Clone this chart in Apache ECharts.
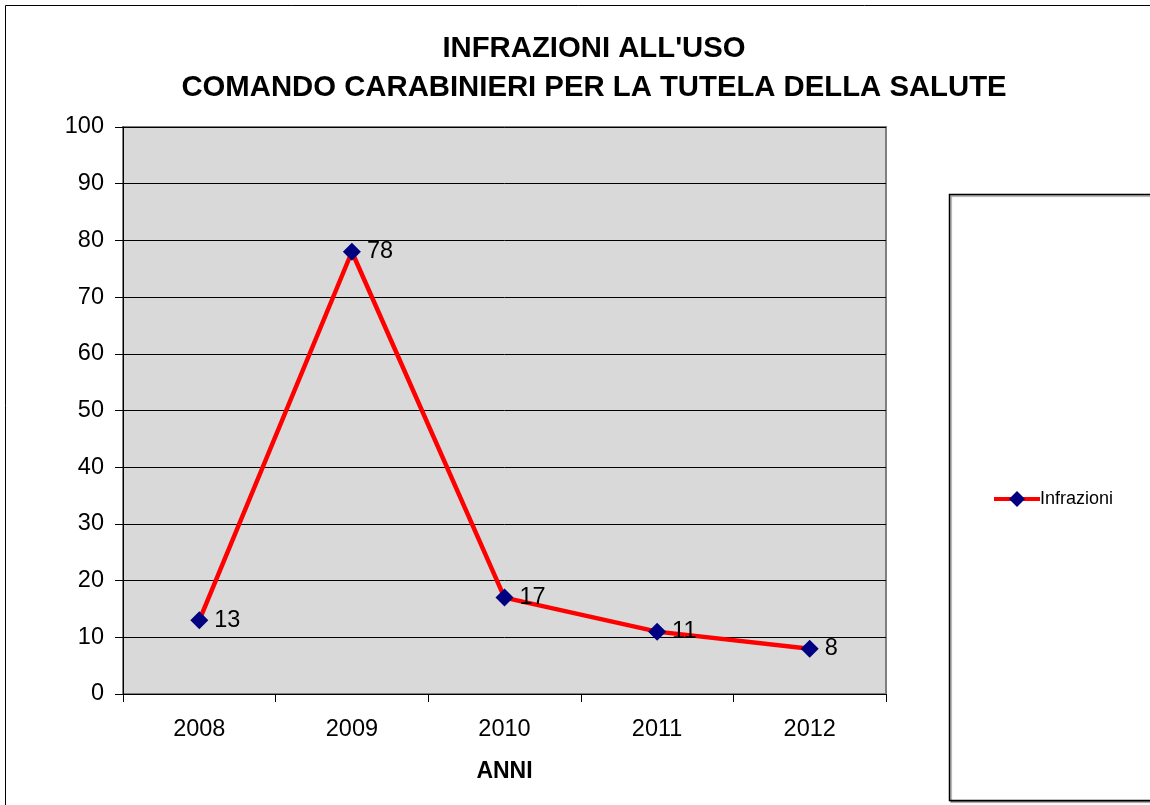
<!DOCTYPE html>
<html>
<head>
<meta charset="utf-8">
<script src="https://cdn.jsdelivr.net/npm/echarts@6/dist/echarts.min.js"></script>
<style>
  html, body { margin: 0; padding: 0; background: #fff; }
  #chart { width: 1150px; height: 805px; }
</style>
</head>
<body>
<div id="chart"></div>
<script>
  // dati
  var anni = ['2008', '2009', '2010', '2011', '2012'];
  var infrazioni = [13, 78, 17, 11, 8];

  var myChart = echarts.init(document.getElementById('chart'));
  var font = 'Liberation Sans, Arial, sans-serif';

  var option = {
    backgroundColor: '#fff',
    animation: false,
    title: {
      text: "INFRAZIONI ALL'USO\nCOMANDO CARABINIERI PER LA TUTELA DELLA SALUTE",
      left: 589,
      top: 24,
      textAlign: 'center',
      textStyle: {
        fontFamily: font,
        fontSize: 29.3,
        fontWeight: 'bold',
        color: '#000',
        lineHeight: 39
      }
    },
    graphic: [
      // cornice esterna
      { type: 'rect', shape: { x: 5.5, y: 5.5, width: 1160, height: 820 },
        style: { fill: 'none', stroke: '#000', lineWidth: 1 }, z: -1 },
      // riquadro legenda
      { type: 'rect', shape: { x: 949.5, y: 194.5, width: 220, height: 606 },
        style: { fill: '#fff', stroke: '#000', lineWidth: 1.5,
          shadowColor: 'rgba(0,0,0,0.4)', shadowOffsetX: 1.5, shadowOffsetY: 1.5, shadowBlur: 1 }, z: 0 }
    ],
    legend: {
      data: ['Infrazioni'],
      left: 987,
      top: 485,
      itemWidth: 46,
      itemHeight: 20,
      itemGap: 2,
      lineStyle: { width: 4 },
      textStyle: { fontFamily: font, fontSize: 18, color: '#000', padding: [0, 0, 0, -5] },
      z: 5
    },
    grid: {
      left: 123,
      top: 127,
      width: 763,
      height: 567,
      show: true,
      backgroundColor: '#d9d9d9',
      borderColor: '#808080',
      borderWidth: 2
    },
    xAxis: {
      type: 'category',
      data: anni,
      boundaryGap: true,
      name: 'ANNI',
      nameLocation: 'middle',
      nameGap: 66,
      nameTextStyle: { fontFamily: font, fontSize: 23, fontWeight: 'bold', color: '#000' },
      axisLine: { lineStyle: { color: '#000', width: 1 } },
      axisTick: { show: true, length: 8, alignWithLabel: false, lineStyle: { color: '#000' } },
      axisLabel: { fontFamily: font, fontSize: 23.5, color: '#000', margin: 24 }
    },
    yAxis: {
      type: 'value',
      min: 0,
      max: 100,
      interval: 10,
      axisLine: { show: true, lineStyle: { color: '#000', width: 1 } },
      axisTick: { show: true, length: 8, lineStyle: { color: '#000' } },
      axisLabel: { fontFamily: font, fontSize: 23.5, color: '#000', margin: 19 },
      splitLine: { show: true, lineStyle: { color: '#000', width: 1 } }
    },
    series: [{
      name: 'Infrazioni',
      type: 'line',
      data: infrazioni,
      symbol: 'diamond',
      symbolSize: 18,
      lineStyle: { color: '#ff0000', width: 4.5 },
      itemStyle: { color: '#000080' },
      label: {
        show: true,
        position: 'right',
        distance: 6,
        fontFamily: font,
        fontSize: 23.5,
        color: '#000'
      }
    }]
  };

  myChart.setOption(option);
</script>
</body>
</html>
